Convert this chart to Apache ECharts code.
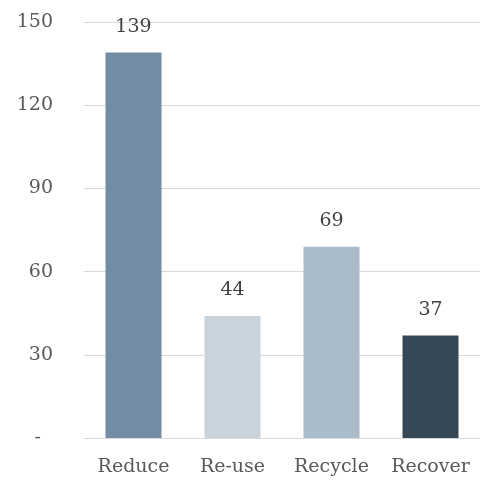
<!DOCTYPE html>
<html>
<head>
<meta charset="utf-8">
<script src="https://cdn.jsdelivr.net/npm/echarts@6/dist/echarts.min.js"></script>
<style>
  html, body { margin: 0; padding: 0; background: #fff; }
  #chart { width: 480px; height: 485px; }
</style>
</head>
<body>
<div id="chart"></div>
<script>
// 图中数据
var categories = ['Reduce', 'Re-use', 'Recycle', 'Recover'];
var values = [139, 44, 69, 37];
var barColors = ['#718CA3', '#C8D3DC', '#AABBCA', '#364756'];

var chart = echarts.init(document.getElementById('chart'));
var font = '"DejaVu Serif", "Liberation Serif", serif';

chart.setOption({
    animation: false,
    grid: { left: 84, right: 0, top: 22, bottom: 47 },
    xAxis: {
        type: 'category',
        data: categories,
        axisLine: { lineStyle: { color: '#D9D9D9', width: 1 } },
        axisTick: { show: false },
        axisLabel: {
            interval: 0, hideOverlap: false,
            color: '#595959', fontFamily: font, fontSize: 19, margin: 20
        }
    },
    yAxis: {
        type: 'value',
        min: 0,
        max: 150,
        interval: 30,
        axisLine: { show: false },
        axisTick: { show: false },
        splitLine: { lineStyle: { color: '#D9D9D9', width: 1 } },
        axisLabel: {
            color: '#595959', fontFamily: font, fontSize: 19, margin: 31,
            // 0 显示为 "-"，像会计格式
            formatter: function (v) { return v === 0 ? '{dash|-}' : v; },
            rich: { dash: { padding: [0, 12, 0, 0], color: '#595959', fontFamily: font, fontSize: 19 } }
        }
    },
    series: [{
        type: 'bar',
        barWidth: 56,
        data: values.map(function (v, i) {
            return { value: v, itemStyle: { color: barColors[i] } };
        }),
        label: {
            show: true,
            position: 'top',
            distance: 16,
            color: '#404040',
            fontFamily: font,
            fontSize: 19
        }
    }]
});
</script>
</body>
</html>
